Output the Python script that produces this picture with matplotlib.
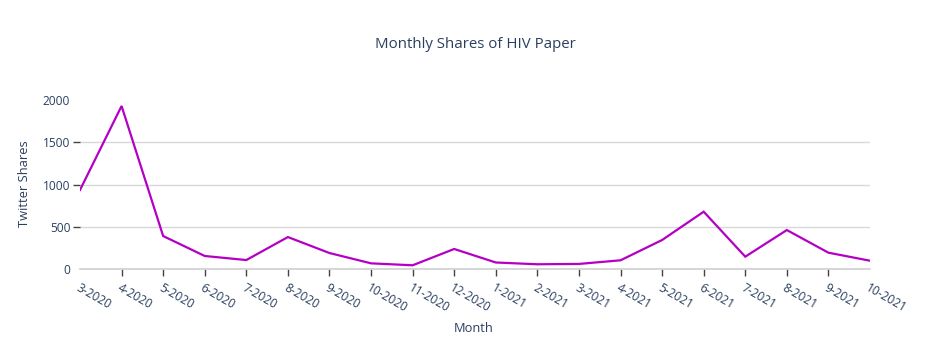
import matplotlib.pyplot as plt

# Monthly twitter shares
months = ["3-2020", "4-2020", "5-2020", "6-2020", "7-2020", "8-2020", "9-2020",
          "10-2020", "11-2020", "12-2020", "1-2021", "2-2021", "3-2021", "4-2021",
          "5-2021", "6-2021", "7-2021", "8-2021", "9-2021", "10-2021"]
shares = [935, 1929, 390, 154, 106, 378, 189, 67, 44, 237, 77, 56, 60, 103,
          343, 678, 146, 461, 193, 98]
y_ticks = [0, 500, 1000, 1500, 2000]

plt.rcParams['font.family'] = ['Open Sans', 'DejaVu Sans']
text_color = "#2a3f5f"

fig = plt.figure(figsize=(9.5, 3.5), dpi=100)
ax = fig.add_axes([80/950, 1 - 269/350, 790/950, 169/350])

x = list(range(len(months)))
ax.plot(x, shares, color="#b400c4", linewidth=1.6, solid_joinstyle="miter")

ax.set_xlim(0, len(months) - 1)
ax.set_ylim(0, 2000)
ax.set_xticks(x)
ax.set_xticklabels(months, rotation=-30, ha="left", rotation_mode="anchor",
                   fontsize=8.6, color=text_color)
ax.set_yticks(y_ticks)
ax.set_yticklabels([str(v) for v in y_ticks], fontsize=8.6, color=text_color)

ax.tick_params(axis="x", length=5, width=1, color="#444444", pad=4)
ax.tick_params(axis="y", length=5, width=1, color="#444444", pad=2)
for t in [ax.xaxis.get_major_ticks()[0], ax.xaxis.get_major_ticks()[-1],
          ax.yaxis.get_major_ticks()[0], ax.yaxis.get_major_ticks()[-1]]:
    t.tick1line.set_visible(False)

ax.grid(axis="y", color="#d8d8d8", linewidth=1)
ax.get_ygridlines()[-1].set_visible(False)
ax.set_axisbelow(True)
for s in ["top", "right", "left"]:
    ax.spines[s].set_visible(False)
ax.spines["bottom"].set_color("#d0d0d0")
ax.spines["bottom"].set_linewidth(1.2)

fig.text(475/950, 1 - 45/350, "Monthly Shares of HIV Paper", ha="center",
         va="center", fontsize=10.8, color=text_color)
fig.text(474/950, 1 - 328/350, "Month", ha="center", va="center",
         fontsize=9.3, color=text_color)
fig.text(25/950, 1 - 184/350, "Twitter Shares", ha="center", va="center",
         rotation=90, fontsize=9.3, color=text_color)

fig.savefig("out.png", dpi=100, facecolor="white")
